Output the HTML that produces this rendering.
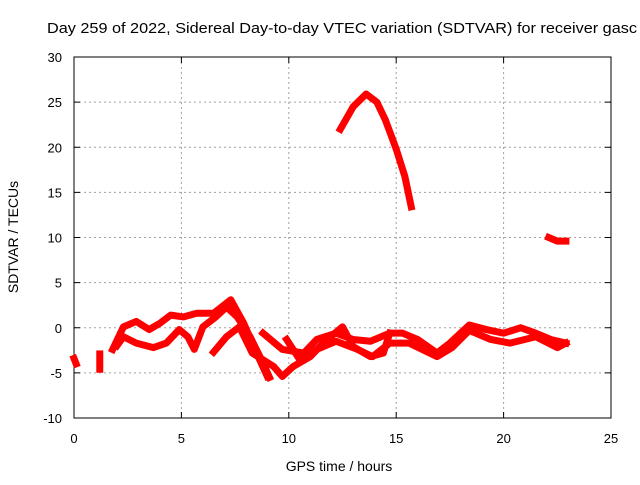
<!DOCTYPE html>
<html><head><meta charset="utf-8"><style>
html,body{margin:0;padding:0;background:#fff;overflow:hidden}
svg text{font-family:"Liberation Sans",sans-serif;font-size:13px;fill:#000}
</style></head><body>
<svg id="chart" width="640" height="480" xmlns="http://www.w3.org/2000/svg">
<rect width="640" height="480" fill="#fff"/>
<text x="47" y="33" textLength="590" lengthAdjust="spacingAndGlyphs" style="font-size:15px">Day 259 of 2022, Sidereal Day-to-day VTEC variation (SDTVAR) for receiver gasc</text>
<g id="grid"></g><g id="axes"></g><g id="series"></g>
<text x="339" y="471" text-anchor="middle" style="font-size:14px">GPS time / hours</text>
<text transform="translate(18,237) rotate(-90)" text-anchor="middle" style="font-size:14px">SDTVAR / TECUs</text>
</svg>
<script>
const xTicks=[0,5,10,15,20,25];
const yTicks=[-10,-5,0,5,10,15,20,25,30];
const trackA=[[1.8,-2.4],[2.3,0.1],[2.9,0.7],[3.5,-0.2],[4.0,0.5],[4.5,1.4],[5.1,1.2],[5.7,1.6],[6.5,1.6],[7.3,3.1],[7.9,0.5],[8.5,-2.8],[9.0,-5.4]];
const trackB=[[2.0,-2.0],[2.3,-1.0],[2.9,-1.7],[3.7,-2.2],[4.3,-1.7],[4.9,-0.2],[5.3,-1.0],[5.6,-2.4],[6.0,0.1],[6.6,1.2],[7.1,2.3],[7.6,1.2],[8.2,-1.0],[8.8,-3.9],[9.1,-5.5]];
const trackC=[[6.5,-2.7],[7.1,-1.0],[7.7,0.1],[8.3,-2.8],[9.3,-4.3],[9.7,-5.4],[10.2,-4.3],[11.0,-3.2],[11.6,-1.7],[12.5,0.1],[13.0,-2.1],[13.8,-3.2],[14.4,-2.8],[14.7,-0.6]];
const trackD=[[8.8,-0.6],[9.7,-2.4],[10.7,-2.8],[11.3,-1.3],[12.2,-0.6],[13.0,-1.3],[13.8,-1.5],[14.7,-0.6],[15.3,-0.6],[16.0,-1.3],[16.9,-2.8],[17.5,-1.7],[18.4,0.3],[19.2,-0.2],[20.0,-0.6],[20.8,0.0],[21.5,-0.6],[22.2,-1.3],[22.9,-1.7]];
const trackE=[[9.9,-1.3],[10.5,-3.5],[11.3,-2.4],[12.2,-1.5],[13.2,-2.4],[13.9,-3.2],[14.7,-1.7],[15.6,-1.7],[16.9,-3.2],[17.6,-2.2],[18.4,-0.3],[19.4,-1.3],[20.3,-1.7],[21.5,-1.0],[22.5,-2.2],[22.9,-1.7]];
const trackF=[[0.0,-3.4],[0.1,-4.0]];
const trackG=[[1.2,-2.9],[1.2,-4.6]];
const trackH=[[12.4,22.0],[13.0,24.5],[13.6,25.9],[14.1,25.0],[14.5,23.0],[15.0,19.8],[15.4,16.8],[15.7,13.4]];
const trackI=[[22.1,10.0],[22.5,9.6],[22.9,9.6]];
const seriesList=[trackA,trackB,trackC,trackD,trackE,trackF,trackG,trackH,trackI];
const seriesNames=['track-a','track-b','track-c','track-d','track-e','track-f','track-g','track-h','track-i'];
const L=74,R=611,T=57,B=418;
function X(h){return L+(h-0)/(25-0)*(R-L);}
function Y(v){return B-(v+10)/(40)*(B-T);}
const NS='http://www.w3.org/2000/svg';
function mk(t,a,p){const e=document.createElementNS(NS,t);for(const k in a)e.setAttribute(k,a[k]);p.appendChild(e);return e;}
const grid=document.getElementById('grid'),axes=document.getElementById('axes'),ser=document.getElementById('series');
xTicks.forEach(t=>{const x=X(t);
 if(t>0&&t<25){const g=mk('line',{x1:x,y1:T,x2:x,y2:B,stroke:'#a0a0a0','stroke-dasharray':'2,3'},grid);
 
 }
 mk('line',{x1:x,y1:B,x2:x,y2:B-6,stroke:'#000'},axes);mk('line',{x1:x,y1:T,x2:x,y2:T+6,stroke:'#000'},axes);
 const tx=mk('text',{x:x,y:B+25,'text-anchor':'middle'},axes);tx.textContent=t;
 
 });
yTicks.forEach(t=>{const y=Y(t);
 if(t>-10&&t<30){const g=mk('line',{x1:L,y1:y,x2:R,y2:y,stroke:'#a0a0a0','stroke-dasharray':'2,3'},grid);
 
 }
 mk('line',{x1:L,y1:y,x2:L+6,y2:y,stroke:'#000'},axes);mk('line',{x1:R,y1:y,x2:R-6,y2:y,stroke:'#000'},axes);
 const tx=mk('text',{x:L-12,y:y+5,'text-anchor':'end'},axes);tx.textContent=t;
 
 });
const fr=mk('rect',{x:L,y:T,width:R-L,height:B-T,fill:'none',stroke:'#000'},axes);


seriesList.forEach((s,i)=>{const p=mk('polyline',{points:s.map(d=>X(d[0])+','+Y(d[1])).join(' '),fill:'none',stroke:'#ff0000','stroke-width':7,'stroke-linejoin':'round','stroke-linecap':'square'},ser);
 
 });
</script>
</body></html>
